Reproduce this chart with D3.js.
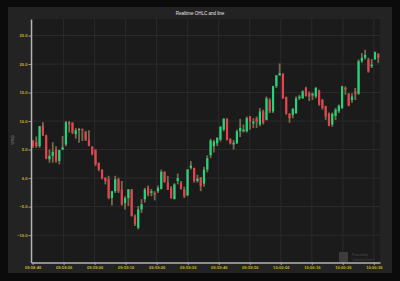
<!DOCTYPE html>
<html>
<head>
<meta charset="utf-8">
<script src="https://cdn.jsdelivr.net/npm/d3@7"></script>
<style>
  html, body { margin: 0; padding: 0; background: #0b0b0b; }
  svg { display: block; }
</style>
</head>
<body>
<svg id="ohlc-chart" width="400" height="281"></svg>
<script>
"use strict";

//Tick labels for both axes
var xTickLabels = ["09:58:46", "09:58:56", "09:59:06", "09:59:16", "09:59:26", "09:59:36",
  "09:59:46", "09:59:56", "10:00:06", "10:00:16", "10:00:26", "10:00:36"];
var yTicks = [-10, -5, 0, 5, 10, 15, 20, 25];

//First candle time and spacing between candles (ms)
var firstCandle = "09:58:46.130";
var candleStep = 1060;

//OHLC values, one entry per candle
var openVals = [6.5, 6.3, 5.6, 9.2, 7.5, 3.3, 3.9, 5.0, 3.0, 5.0,
  5.9, 9.8, 9.7, 7.7, 8.4, 8.6, 8.1, 6.7, 5.5, 5.0,
  2.7, 1.5, 0.1, -0.2, -3.5, -2.3, -0.2, -2.0, -4.4, -3.5,
  -2.0, -6.7, -8.7, -5.5, -3.7, -1.7, -2.6, -2.6, -2.3, -1.9,
  1.1, -0.8, -1.7, -3.7, -0.5, -0.8, -2.0, -3.0, 1.8, 1.8,
  -0.5, 0.1, -1.0, 1.5, 4.0, 5.6, 6.1, 6.7, 8.5, 10.4,
  6.8, 5.9, 6.1, 8.2, 8.2, 8.2, 10.8, 9.6, 10.5, 9.4,
  11.7, 10.2, 13.7, 11.7, 16.1, 18.0, 18.3, 14.2, 11.3, 11.1,
  11.4, 14.0, 14.0, 15.8, 14.9, 14.5, 14.3, 15.4, 13.7, 12.6,
  11.3, 9.4, 10.9, 11.7, 12.3, 15.8, 14.8, 13.7, 15.2, 14.8,
  20.5, 21.1, 20.8, 19.6, 20.8, 21.8];
var highVals = [6.7, 7.3, 9.1, 9.8, 7.6, 5.0, 6.3, 5.6, 5.0, 7.4,
  10.0, 10.0, 9.8, 8.8, 8.8, 8.7, 8.3, 8.4, 5.6, 5.0,
  2.7, 1.5, 0.1, 0.4, -2.3, 0.4, 0.1, -0.5, -3.2, -1.9,
  -1.9, -6.4, -4.9, -3.7, -1.7, -1.3, -1.9, -2.3, -1.3, 1.5,
  1.2, 0.4, -1.4, -0.9, 0.8, -0.5, -1.5, 1.6, 3.0, 1.8,
  0.6, 0.2, 2.0, 4.0, 6.9, 6.7, 7.2, 9.1, 10.5, 10.5,
  7.0, 6.7, 8.5, 10.4, 9.4, 10.8, 10.9, 10.5, 10.8, 12.3,
  12.0, 14.3, 14.0, 16.2, 18.1, 20.1, 18.4, 14.3, 11.4, 12.3,
  14.3, 14.6, 15.4, 16.0, 15.2, 15.0, 16.0, 15.5, 13.9, 12.7,
  11.5, 11.5, 12.3, 12.9, 16.2, 16.1, 14.9, 14.9, 15.8, 20.8,
  21.9, 22.5, 21.1, 20.9, 22.2, 21.9];
var lowVals = [5.3, 5.3, 5.3, 7.4, 3.3, 2.7, 2.7, 2.7, 2.4, 4.9,
  5.6, 8.0, 7.7, 6.9, 6.2, 6.5, 6.5, 5.6, 4.0, 2.1,
  1.2, -0.2, -1.1, -3.7, -4.8, -2.6, -2.6, -4.8, -5.5, -4.9,
  -6.7, -8.4, -9.0, -6.1, -4.3, -3.2, -3.2, -3.9, -2.6, -2.0,
  -0.8, -2.1, -3.6, -3.7, -1.1, -2.0, -3.5, -3.2, 1.5, -0.8,
  -0.8, -2.3, -1.5, 1.0, 3.5, 4.5, 5.6, 6.4, 8.2, 6.6,
  5.9, 5.0, 6.0, 7.2, 8.0, 8.0, 8.5, 8.8, 8.8, 9.1,
  9.4, 10.1, 11.4, 11.4, 15.8, 18.0, 13.9, 11.1, 9.7, 10.5,
  11.3, 13.7, 13.9, 14.3, 13.5, 13.7, 14.0, 12.7, 12.0, 10.2,
  9.1, 9.0, 10.2, 11.4, 12.1, 14.6, 12.6, 13.2, 13.7, 14.6,
  20.2, 20.8, 18.5, 19.3, 20.8, 20.2];
var closeVals = [5.6, 5.6, 9.1, 7.5, 3.4, 3.9, 4.6, 3.0, 4.9, 5.4,
  9.8, 9.4, 8.0, 8.4, 8.6, 8.4, 6.7, 5.7, 4.2, 2.4,
  1.5, -0.1, -0.5, -3.5, -2.3, -0.2, -2.3, -4.6, -3.5, -2.0,
  -6.7, -8.1, -5.5, -4.6, -2.0, -2.9, -2.3, -2.9, -1.7, 1.1,
  -0.7, -2.0, -3.5, -1.1, 0.0, -1.9, -3.2, 1.5, 2.2, -0.5,
  -0.1, -1.4, 1.5, 3.5, 6.6, 6.4, 7.0, 9.0, 10.4, 6.7,
  6.1, 6.2, 8.2, 8.8, 8.5, 10.5, 9.9, 9.9, 9.9, 11.7,
  9.7, 14.0, 11.7, 16.1, 18.0, 18.4, 14.0, 11.3, 10.5, 12.1,
  14.0, 14.3, 15.2, 14.4, 14.3, 14.8, 15.8, 12.9, 12.3, 10.8,
  9.2, 11.3, 12.0, 12.7, 16.1, 15.5, 12.7, 14.3, 14.8, 20.5,
  21.1, 21.6, 18.7, 19.9, 22.1, 21.1];

var parseTime = d3.timeParse("%H:%M:%S");
var parseMs = d3.timeParse("%H:%M:%S.%L");

var svg = d3.select("#ohlc-chart"),
  margin = {top: 19, right: 20, bottom: 18.5, left: 31},
  width = +svg.attr("width") - margin.left - margin.right,
  height = +svg.attr("height") - margin.top - margin.bottom;

//Dark panel behind the chart
svg.append("rect")
  .attr("x", 8).attr("y", 7)
  .attr("width", 384).attr("height", 266)
  .attr("fill", "#232323");

var g = svg.append("g").attr("transform", "translate(" + margin.left + "," + margin.top + ")");

g.append("rect")
  .attr("width", width).attr("height", height)
  .attr("fill", "#1b1b1b");

//Candle data built from the arrays
var t0 = parseMs(firstCandle);
var candles = openVals.map(function(o, i) {
  return {
    date: new Date(t0.getTime() + i * candleStep),
    open: o, high: highVals[i], low: lowVals[i], close: closeVals[i]
  };
});

var xTicks = xTickLabels.map(function(s) { return parseTime(s); });
var xStart = new Date(xTicks[0].getTime() - 520);

var x = d3.scaleTime()
  .domain([xStart, new Date(xStart.getTime() + 112500)])
  .range([0, width]);
var y = d3.scaleLinear().domain([-14.8, 27.9]).range([height, 0]);

//Grid lines
g.append("g").selectAll("line")
  .data(xTicks).enter().append("line")
  .attr("x1", function(d) { return x(d); }).attr("x2", function(d) { return x(d); })
  .attr("y1", 0).attr("y2", height)
  .attr("stroke", "#2b2b2b").attr("stroke-width", 1);

g.append("g").selectAll("line")
  .data(yTicks).enter().append("line")
  .attr("x1", 0).attr("x2", width)
  .attr("y1", function(d) { return y(d); }).attr("y2", function(d) { return y(d); })
  .attr("stroke", "#2b2b2b").attr("stroke-width", 1);

//Candles
var candle = g.selectAll(".candle")
  .data(candles)
  .enter().append("g")
  .attr("class", "candle");

candle.append("line")
  .attr("x1", function(d) { return x(d.date); })
  .attr("x2", function(d) { return x(d.date); })
  .attr("y1", function(d) { return y(d.high); })
  .attr("y2", function(d) { return y(d.low); })
  .attr("stroke", "#756a4c")
  .attr("stroke-width", 1.8);

candle.append("rect")
  .attr("x", function(d) { return x(d.date) - 1.1; })
  .attr("width", 2.2)
  .attr("y", function(d) { return y(Math.max(d.open, d.close)); })
  .attr("height", function(d) { return Math.max(0.8, Math.abs(y(d.open) - y(d.close))); })
  .attr("fill", function(d) { return d.close >= d.open ? "#22d57a" : "#e8414f"; });

//Axes
g.append("g")
  .attr("class", "axis axis--y")
  .call(d3.axisLeft(y).tickValues(yTicks).tickFormat(d3.format(".1f"))
    .tickSizeInner(2.5).tickSizeOuter(0).tickPadding(1));

g.append("g")
  .attr("class", "axis axis--x")
  .attr("transform", "translate(0," + height + ")")
  .call(d3.axisBottom(x).tickValues(xTicks).tickFormat(d3.timeFormat("%H:%M:%S"))
    .tickSizeInner(2.5).tickSizeOuter(0).tickPadding(1));

g.selectAll(".axis .domain").attr("stroke", "#b4b4b4").attr("stroke-width", 1.4);
g.selectAll(".axis .tick line").attr("stroke", "#b4b4b4").attr("stroke-width", 0.8);
g.selectAll(".axis text")
  .attr("fill", "#c8b42a")
  .style("font", "bold 4.1px 'Liberation Sans', sans-serif");

//Axis title
svg.append("text")
  .attr("transform", "translate(14,140) rotate(-90)")
  .attr("text-anchor", "middle")
  .attr("fill", "#8a8a8a")
  .style("font", "4.3px 'Liberation Sans', sans-serif")
  .text("USD");

//Chart title
svg.append("text")
  .attr("x", 200).attr("y", 14.5)
  .attr("text-anchor", "middle")
  .attr("fill", "#e6e6e6")
  .style("font", "4.5px 'Liberation Sans', sans-serif")
  .text("Realtime OHLC and line");

//Watermark
var mark = svg.append("g").attr("fill", "#4a4a4a");
mark.append("rect")
  .attr("x", 339).attr("y", 252).attr("width", 9).attr("height", 10)
  .attr("rx", 1).attr("fill", "#3c3c3c");
mark.append("text")
  .attr("x", 352).attr("y", 256)
  .style("font", "3px 'Liberation Sans', sans-serif")
  .text("Powered by");
mark.append("text")
  .attr("x", 352).attr("y", 260.5)
  .style("font", "3px 'Liberation Sans', sans-serif")
  .text("LightningChart\u2122");
</script>
</body>
</html>
